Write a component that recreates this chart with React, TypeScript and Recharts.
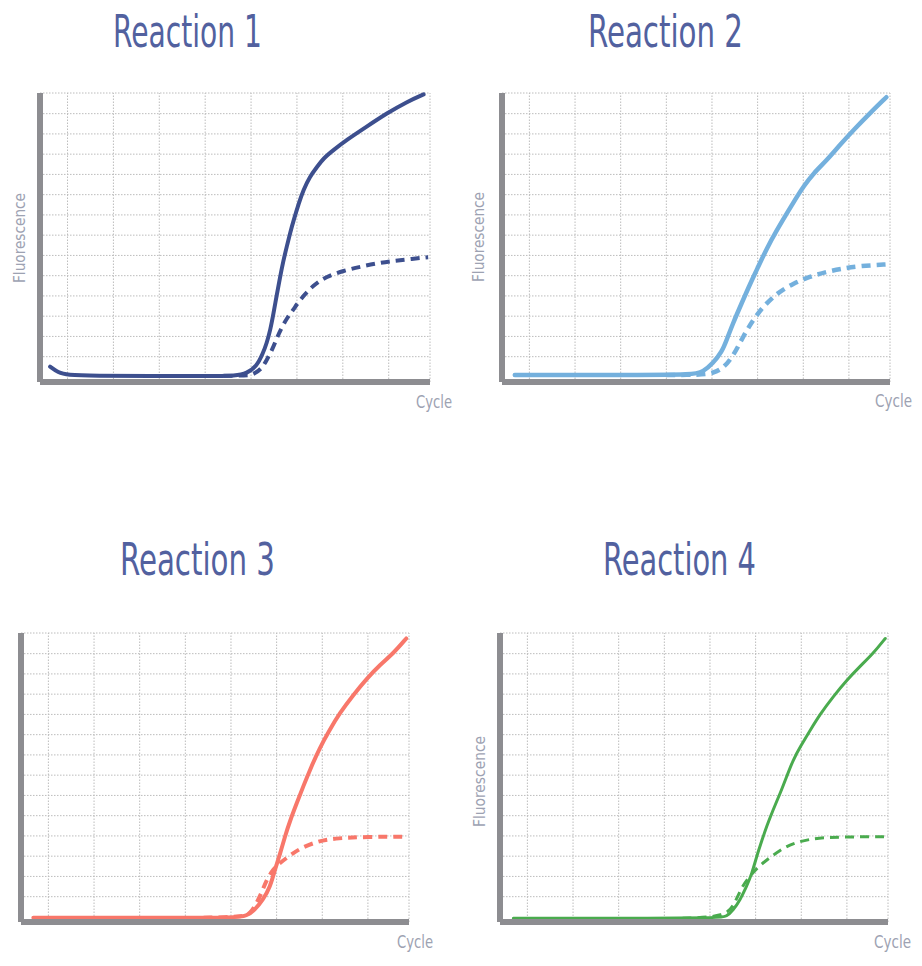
import React from "react";
import { LineChart, Line, XAxis, YAxis, ReferenceLine } from "recharts";

// ---- axis ticks (cycle / fluorescence grid) ----
const cycleTicks = [3, 8, 13, 18, 23, 28, 33, 38, 42.5];
const fluorTicks = [1.25, 2.25, 3.25, 4.25, 5.25, 6.25, 7.25, 8.25, 9.25, 10.25, 11.25, 12.25, 13.25, 14.27];
const cycleDomain: [number, number] = [0, 42.5];
const fluorDomain: [number, number] = [0, 14.27];

// ---- titles / labels ----
const titles = ["Reaction 1", "Reaction 2", "Reaction 3", "Reaction 4"];
const xLabel = "Cycle";
const yLabel = "Fluorescence";

// ---- series: [cycle, fluorescence] ----
const reaction1Solid: [number, number][] = [
  [1.1, 0.76], [2.0, 0.46], [2.9, 0.35], [6, 0.31], [12, 0.29], [18, 0.29], [21.5, 0.31],
  [22.5, 0.43], [23.6, 0.76], [24.3, 1.42], [24.7, 1.91], [25.1, 2.57], [25.45, 3.4],
  [25.8, 4.3], [26.15, 5.15], [26.5, 5.95], [26.9, 6.7], [27.25, 7.35], [27.65, 8.0],
  [28.2, 8.82], [28.7, 9.48], [29.4, 10.14], [30.2, 10.63], [30.9, 11.05], [32.0, 11.46],
  [33.4, 11.95], [35.6, 12.61], [37.8, 13.27], [40.0, 13.84], [41.8, 14.2],
];
const reaction1Dashed: [number, number][] = [
  [20, 0.31], [22.5, 0.32], [23.2, 0.35], [24.2, 0.67], [24.7, 1.09], [25.3, 1.58],
  [25.8, 2.16], [26.3, 2.65], [26.9, 3.15], [27.6, 3.56], [28.3, 4.05], [29.8, 4.79],
  [31.2, 5.2], [33.1, 5.5], [34.9, 5.69], [36.7, 5.86], [38.5, 5.98], [40.3, 6.07], [42.3, 6.16],
];
const reaction2Solid: [number, number][] = [
  [1.4, 0.35], [8, 0.35], [15, 0.35], [20.9, 0.35], [22.05, 0.51], [23.1, 0.92], [24.1, 1.5],
  [24.6, 2.07], [25.3, 2.9], [26.25, 3.89], [27.2, 4.87], [27.9, 5.53], [29.0, 6.6], [30.1, 7.5],
  [31.2, 8.33], [32.3, 9.15], [33.0, 9.64], [34.1, 10.3], [35.6, 10.96], [37.0, 11.7],
  [38.5, 12.44], [40.3, 13.27], [42.1, 14.06],
];
const reaction2Dashed: [number, number][] = [
  [18, 0.35], [21.7, 0.35], [23.1, 0.43], [24.2, 0.67], [25.3, 1.25], [26.4, 2.24], [27.5, 3.06],
  [28.6, 3.72], [30.1, 4.38], [31.9, 4.87], [33.7, 5.2], [35.6, 5.45], [37.4, 5.61], [39.2, 5.73],
  [42.3, 5.81],
];
const reaction3Solid: [number, number][] = [
  [1.35, 0.21], [8, 0.21], [16, 0.21], [23.6, 0.21], [24.7, 0.3], [25.6, 0.59], [26.5, 1.09],
  [27.3, 1.74], [27.8, 2.57], [28.4, 3.39], [28.9, 4.21], [29.5, 5.04], [30.2, 5.86], [30.9, 6.68],
  [31.8, 7.67], [32.7, 8.58], [33.8, 9.48], [34.9, 10.31], [36.4, 11.21], [37.9, 12.03],
  [39.3, 12.69], [40.8, 13.27], [42.2, 14.0],
];
const reaction3Dashed: [number, number][] = [
  [20, 0.21], [24.2, 0.25], [25.1, 0.4], [25.8, 0.92], [26.4, 1.5], [26.9, 2.07], [27.6, 2.6],
  [28.4, 2.93], [29.5, 3.3], [30.6, 3.64], [32.4, 3.97], [34.2, 4.13], [37.9, 4.21], [42.4, 4.21],
];
const reaction4Solid: [number, number][] = [
  [1.46, 0.18], [8, 0.18], [16, 0.18], [24.1, 0.21], [24.8, 0.26], [25.55, 0.59], [26.3, 1.09],
  [27.0, 1.74], [27.6, 2.4], [28.1, 3.22], [28.7, 4.05], [29.2, 4.71], [29.9, 5.53], [30.7, 6.36],
  [31.4, 7.18], [32.1, 8.0], [32.9, 8.66], [34.0, 9.48], [35.0, 10.22], [36.5, 11.13],
  [38.0, 11.95], [39.4, 12.61], [40.9, 13.27], [42.2, 14.0],
];
const reaction4Dashed: [number, number][] = [
  [20, 0.18], [24.8, 0.26], [25.7, 0.92], [26.5, 1.74], [27.2, 2.16], [28.1, 2.65], [29.2, 3.06],
  [30.7, 3.56], [32.1, 3.89], [34.0, 4.1], [35.8, 4.18], [39.4, 4.21], [42.4, 4.21],
];

const toRows = (pts: [number, number][]) => pts.map(([cycle, fluor]) => ({ cycle, fluor }));

type PanelProps = {
  left: number; top: number; width: number; height: number;
  color: string; strokeWidth: number;
  solid: [number, number][]; dashed: [number, number][];
};

const PAD = 14;
const AX = 8;
const AXIS_COLOR = "#8d8d91";
const GRID_COLOR = "#bcbcbc";

function Panel({ left, top, width, height, color, strokeWidth, solid, dashed }: PanelProps) {
  return (
    <div style={{ position: "absolute", left: left - PAD, top: top - PAD }}>
      <LineChart
        width={width + PAD * 2}
        height={height + PAD * 2}
        margin={{ top: PAD, right: PAD, bottom: PAD - AX, left: PAD - AX }}
      >
        <XAxis
          type="number"
          dataKey="cycle"
          domain={cycleDomain}
          ticks={cycleTicks}
          interval={0}
          height={AX}
          tick={false}
          tickLine={false}
          axisLine={{ stroke: AXIS_COLOR, strokeWidth: 6 }}
        />
        <YAxis
          type="number"
          dataKey="fluor"
          domain={fluorDomain}
          ticks={fluorTicks}
          interval={0}
          width={AX}
          tick={false}
          tickLine={false}
          axisLine={{ stroke: AXIS_COLOR, strokeWidth: 6 }}
        />
        {fluorTicks.map((t) => (
          <ReferenceLine key={"h" + t} y={t} stroke={GRID_COLOR} strokeWidth={1} strokeDasharray="1.5 1.5" />
        ))}
        {cycleTicks.map((t) => (
          <ReferenceLine key={"v" + t} x={t} stroke={GRID_COLOR} strokeWidth={1} strokeDasharray="1.5 1.5" />
        ))}
        <Line
          data={toRows(dashed)}
          dataKey="fluor"
          type="basis"
          stroke={color}
          strokeWidth={strokeWidth}
          strokeDasharray="9 6"
          dot={false}
          activeDot={false}
          isAnimationActive={false}
        />
        <Line
          data={toRows(solid)}
          dataKey="fluor"
          type="basis"
          stroke={color}
          strokeWidth={strokeWidth}
          strokeLinecap="round"
          dot={false}
          activeDot={false}
          isAnimationActive={false}
        />
      </LineChart>
    </div>
  );
}

const TITLE_COLOR = "#52619f";
const LABEL_COLOR = "#9da2b2";
const FONT = "'DejaVu Sans Condensed', 'Liberation Sans Narrow', Roboto, sans-serif";

export default function App() {
  return (
    <div style={{ position: "absolute", left: 0, top: 0, width: 922, height: 966, background: "#fff" }}>
      <Panel left={40} top={93} width={390} height={289} color="#3d4f8e" strokeWidth={4}
        solid={reaction1Solid} dashed={reaction1Dashed} />
      <Panel left={502} top={93} width={388} height={289} color="#74b0dd" strokeWidth={4.5}
        solid={reaction2Solid} dashed={reaction2Dashed} />
      <Panel left={21} top={633} width={388} height={289} color="#f8776a" strokeWidth={4}
        solid={reaction3Solid} dashed={reaction3Dashed} />
      <Panel left={500} top={633} width={388} height={289} color="#4aab4e" strokeWidth={3}
        solid={reaction4Solid} dashed={reaction4Dashed} />
      <svg width={922} height={966} style={{ position: "absolute", left: 0, top: 0, pointerEvents: "none" }}>
        <g fontFamily={FONT} fill={TITLE_COLOR} fontSize={44}>
          <text x={113} y={47} textLength={149} lengthAdjust="spacingAndGlyphs">{titles[0]}</text>
          <text x={588} y={47} textLength={155} lengthAdjust="spacingAndGlyphs">{titles[1]}</text>
          <text x={120} y={575} textLength={155} lengthAdjust="spacingAndGlyphs">{titles[2]}</text>
          <text x={603} y={575} textLength={153} lengthAdjust="spacingAndGlyphs">{titles[3]}</text>
        </g>
        <g fontFamily={FONT} fill={LABEL_COLOR} fontSize={18}>
          <text x={416} y={408} textLength={36} lengthAdjust="spacingAndGlyphs">{xLabel}</text>
          <text x={875} y={407} textLength={37} lengthAdjust="spacingAndGlyphs">{xLabel}</text>
          <text x={397} y={948} textLength={36} lengthAdjust="spacingAndGlyphs">{xLabel}</text>
          <text x={874} y={948} textLength={37} lengthAdjust="spacingAndGlyphs">{xLabel}</text>
        </g>
        <g fontFamily={FONT} fill={LABEL_COLOR} fontSize={16}>
          <text x={0} y={0} textLength={90} lengthAdjust="spacingAndGlyphs"
            transform="translate(25,283) rotate(-90)">{yLabel}</text>
          <text x={0} y={0} textLength={90} lengthAdjust="spacingAndGlyphs"
            transform="translate(484,282) rotate(-90)">{yLabel}</text>
          <text x={0} y={0} textLength={91} lengthAdjust="spacingAndGlyphs"
            transform="translate(485,827) rotate(-90)">{yLabel}</text>
        </g>
      </svg>
    </div>
  );
}
